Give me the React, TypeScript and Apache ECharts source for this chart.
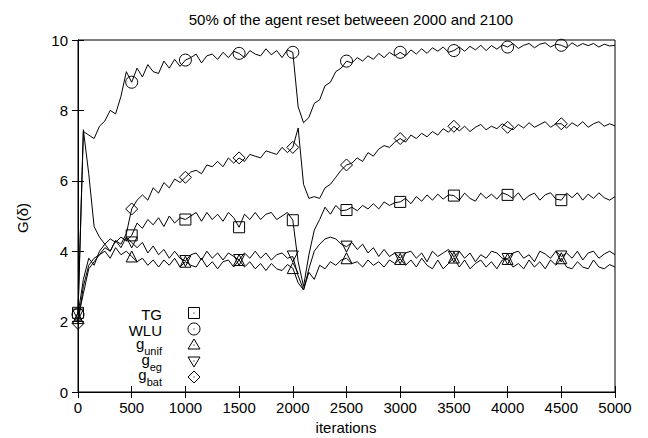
import React, { useEffect, useRef } from "react";
import * as echarts from "echarts";

// iteration step between samples
const STEP = 50;
const xTicks = [0, 500, 1000, 1500, 2000, 2500, 3000, 3500, 4000, 4500, 5000];
const yTicks = [0, 2, 4, 6, 8, 10];

const wlu = [
  2.2, 7.4, 7.3, 7.2, 7.55, 7.7, 8.0, 7.9, 8.4, 9.1,
  8.8, 9.2, 8.95, 9.3, 9.1, 9.05, 9.4, 9.2, 9.45, 9.25,
  9.43, 9.5, 9.6, 9.35, 9.55, 9.6, 9.45, 9.65, 9.5, 9.68,
  9.62, 9.5, 9.7, 9.6, 9.55, 9.75, 9.58, 9.7, 9.5, 9.72,
  9.65, 8.1, 7.65, 7.8, 8.2, 8.3, 8.7, 8.8, 9.1, 9.2,
  9.4, 9.35, 9.5, 9.4, 9.55, 9.45, 9.62, 9.5, 9.65, 9.55,
  9.65, 9.55, 9.72, 9.6, 9.75, 9.62, 9.78, 9.68, 9.8, 9.65,
  9.7, 9.8, 9.68, 9.82, 9.72, 9.85, 9.7, 9.84, 9.74, 9.86,
  9.8, 9.9, 9.76, 9.85, 9.9, 9.78, 9.88, 9.92, 9.8, 9.88,
  9.85, 9.78, 9.92, 9.82, 9.9, 9.84, 9.9, 9.8, 9.88, 9.83,
  9.85,
];

const gBat = [
  1.95, 3.0, 3.6, 3.8, 3.9, 4.1, 4.0, 4.3, 4.2, 4.5,
  5.2, 5.45, 5.6, 5.45, 5.8, 5.65, 5.95, 5.8, 6.05, 5.95,
  6.1, 6.25, 6.3, 6.2, 6.45, 6.4, 6.55, 6.4, 6.65, 6.5,
  6.65, 6.55, 6.75, 6.7, 6.65, 6.85, 6.8, 6.75, 6.95, 6.8,
  6.95, 7.5, 5.9, 5.5, 5.55, 5.5, 5.8, 5.9, 6.1, 6.3,
  6.45, 6.5, 6.65, 6.55, 6.8, 6.7, 6.9, 7.0, 6.95, 7.1,
  7.2, 7.1, 7.3, 7.2, 7.35, 7.25, 7.4, 7.3, 7.48, 7.38,
  7.55, 7.42, 7.55, 7.4, 7.52, 7.6, 7.45, 7.55, 7.48, 7.62,
  7.52, 7.45, 7.6, 7.5, 7.65, 7.52, 7.6, 7.68, 7.52, 7.62,
  7.62, 7.5, 7.65, 7.55, 7.68, 7.52, 7.62, 7.68, 7.55, 7.62,
  7.56,
];

const tg = [
  2.25, 7.45, 6.2, 4.7, 4.4, 4.2, 4.35, 4.25, 4.4, 4.3,
  4.45, 4.8, 4.65, 4.9, 4.75, 4.95, 4.7, 5.0, 4.8, 4.95,
  4.9, 5.0, 5.1, 4.85, 5.1, 4.9, 5.05, 4.85, 5.1, 4.95,
  4.68, 5.05, 4.9, 5.1, 4.9, 5.05, 5.1, 4.9, 5.0, 5.1,
  4.88, 3.7, 3.0, 3.9, 4.6, 4.9, 5.25, 5.05, 5.3, 5.15,
  5.17, 5.25, 5.15, 5.3, 5.2, 5.35, 5.2, 5.4, 5.3, 5.38,
  5.4, 5.5, 5.35, 5.55, 5.42, 5.6, 5.45, 5.62, 5.48, 5.6,
  5.58, 5.45, 5.65, 5.5, 5.42, 5.65, 5.5, 5.62, 5.48, 5.66,
  5.6, 5.5, 5.66, 5.45, 5.58, 5.65, 5.45, 5.6, 5.66, 5.48,
  5.45, 5.65, 5.52, 5.66, 5.45, 5.62, 5.5, 5.66, 5.52, 5.45,
  5.55,
];

const gUnif = [
  2.1, 2.8, 3.5, 3.7, 3.9, 4.0, 3.8, 4.1, 3.9, 4.0,
  3.85, 3.7, 3.8, 3.6, 3.75, 3.55, 3.75, 3.6, 3.8, 3.55,
  3.7, 3.6, 3.55, 3.8, 3.55, 3.7, 3.5, 3.7, 3.75, 3.55,
  3.75, 3.55, 3.7, 3.5, 3.65, 3.45, 3.65, 3.5, 3.45, 3.62,
  3.52, 3.1, 2.9, 3.4, 3.2, 3.6, 3.5, 3.7, 3.6, 3.75,
  3.8, 3.65, 3.7, 3.55, 3.75, 3.6, 3.7, 3.55, 3.75, 3.65,
  3.78, 3.6, 3.75, 3.55, 3.8, 3.6, 3.5, 3.75, 3.5, 3.65,
  3.82, 3.55, 3.75, 3.5, 3.65, 3.75, 3.55, 3.7, 3.5, 3.75,
  3.78, 3.55, 3.65, 3.5, 3.75, 3.55, 3.7, 3.5, 3.75, 3.6,
  3.8, 3.55, 3.5, 3.7, 3.55, 3.5, 3.75, 3.55, 3.5, 3.62,
  3.55,
];

const gEg = [
  2.2, 3.2, 3.8, 3.6, 4.0, 4.2, 4.0, 4.3, 4.1, 4.4,
  4.25, 4.1, 4.25, 3.95, 4.15, 3.9, 4.05, 3.8, 4.0, 3.8,
  3.72, 3.9, 3.95, 3.75, 4.0, 3.8, 3.95, 3.75, 3.95, 3.85,
  3.75, 3.95, 3.8, 4.0, 3.8, 3.95, 3.75, 3.9, 3.95, 3.8,
  3.85, 3.3, 2.9, 3.5, 4.0, 4.2, 4.35, 4.4, 4.35, 4.2,
  4.13, 4.25, 4.05, 4.2, 3.95, 4.1, 3.85, 4.05, 3.85, 3.95,
  3.8, 3.95, 4.0, 3.8, 3.95, 3.7, 4.0, 3.85, 3.95, 4.05,
  3.84, 4.0, 3.8, 3.95, 3.7, 3.9, 3.8, 4.0, 3.95, 3.8,
  3.78, 3.95, 4.0, 3.8, 3.9, 3.7, 4.0, 3.92, 3.8, 4.0,
  3.85, 3.95, 3.8, 4.0, 3.75, 3.95, 4.0, 3.8, 3.92, 4.0,
  3.9,
];

const FONT = "'Liberation Sans', Arial, Helvetica, sans-serif";
const MARK_EVERY = 10; // marker every 500 iterations

function buildData(vals: number[]) {
  return vals.map((v, i) => {
    const x = i * STEP;
    if (i % MARK_EVERY === 0 && i < vals.length - 1) return { value: [x, v] };
    return { value: [x, v], symbol: "none" };
  });
}

function makeSeries(name: string, vals: number[], symbol: string, size: number, rotate = 0) {
  return {
    type: "line",
    name,
    data: buildData(vals),
    symbol,
    symbolSize: size,
    symbolRotate: rotate,
    showSymbol: true,
    showAllSymbol: true,
    silent: true,
    emphasis: { disabled: true },
    lineStyle: { color: "#000", width: 1 },
    itemStyle: { color: "rgba(255,255,255,0)", borderColor: "#000", borderWidth: 1 },
  };
}

export default function App() {
  const ref = useRef<HTMLDivElement>(null);
  useEffect(() => {
    if (!ref.current) return;
    const chart = echarts.init(ref.current, null, { renderer: "svg" });
    const axisLabel = { color: "#000", fontSize: 15, fontFamily: FONT };
    const legendX = 162;
    const symX = 194;
    const symY = [313, 329, 345, 361, 377];
    const k = 5.5;
    const mainFont = `15px ${FONT}`;
    const subFont = `11px ${FONT}`;
    const gLabel = (sub: string, subW: number, gy: number, sy: number) => [
      { type: "text", x: legendX, y: sy, style: { text: sub, fill: "#000", font: subFont, align: "right", verticalAlign: "middle" } },
      { type: "text", x: legendX - subW, y: gy, style: { text: "g", fill: "#000", font: mainFont, align: "right", verticalAlign: "middle" } },
    ];
    chart.setOption({
      animation: false,
      backgroundColor: "#fff",
      title: {
        text: "50% of the agent reset betweeen 2000 and 2100",
        left: 346,
        top: 7,
        textAlign: "center",
        textStyle: { color: "#000", fontSize: 15, fontWeight: "normal", fontFamily: FONT },
      },
      grid: { left: 78, right: 33, top: 40, bottom: 46, show: true, borderColor: "#000", borderWidth: 1, backgroundColor: "transparent" },
      xAxis: [
        {
          type: "value", min: 0, max: 5000, interval: 500,
          axisLine: { show: true, lineStyle: { color: "#000" } },
          axisTick: { show: true, inside: true, length: 6, lineStyle: { color: "#000" } },
          axisLabel: { ...axisLabel, margin: 8, customValues: xTicks, formatter: (v: number) => String(v) },
          splitLine: { show: false },
        },
        {
          type: "value", position: "top", min: 0, max: 5000, interval: 500,
          axisLine: { show: true, lineStyle: { color: "#000" } },
          axisTick: { show: true, inside: true, length: 6, lineStyle: { color: "#000" } },
          axisLabel: { show: false },
          splitLine: { show: false },
        },
      ],
      yAxis: [
        {
          type: "value", min: 0, max: 10, interval: 2,
          axisLine: { show: true, lineStyle: { color: "#000" } },
          axisTick: { show: true, inside: true, length: 6, lineStyle: { color: "#000" } },
          axisLabel: { ...axisLabel, margin: 10, customValues: yTicks, formatter: (v: number) => String(v) },
          splitLine: { show: false },
        },
        {
          type: "value", position: "right", min: 0, max: 10, interval: 2,
          axisLine: { show: true, lineStyle: { color: "#000" } },
          axisTick: { show: true, inside: true, length: 6, lineStyle: { color: "#000" } },
          axisLabel: { show: false },
          splitLine: { show: false },
        },
      ],
      series: [
        makeSeries("TG", tg, "rect", 11),
        makeSeries("WLU", wlu, "circle", 12),
        makeSeries("g_unif", gUnif, "triangle", 11),
        makeSeries("g_eg", gEg, "triangle", 11, 180),
        makeSeries("g_bat", gBat, "diamond", 12),
      ],
      graphic: [
        {
          type: "text", x: 346, y: 427,
          style: { text: "iterations", fill: "#000", font: mainFont, align: "center", verticalAlign: "middle" },
        },
        {
          type: "text", x: 22, y: 218, rotation: Math.PI / 2,
          style: { text: "G(δ)", fill: "#000", font: mainFont, align: "center", verticalAlign: "middle" },
        },
        // legend texts
        { type: "text", x: legendX, y: 314, style: { text: "TG", fill: "#000", font: mainFont, align: "right", verticalAlign: "middle" } },
        { type: "text", x: legendX, y: 330, style: { text: "WLU", fill: "#000", font: mainFont, align: "right", verticalAlign: "middle" } },
        ...gLabel("unif", 17.7, 343.5, 350.5),
        ...gLabel("eg", 12.2, 359.5, 366.5),
        ...gLabel("bat", 15.3, 374.5, 381.5),
        // legend symbols
        { type: "rect", shape: { x: symX - k, y: symY[0] - k, width: 2 * k, height: 2 * k }, style: { fill: "none", stroke: "#000", lineWidth: 1 } },
        { type: "rect", shape: { x: symX - 0.5, y: symY[0] - 0.5, width: 1, height: 1 }, style: { fill: "#000" } },
        { type: "circle", shape: { cx: symX, cy: symY[1], r: 6 }, style: { fill: "none", stroke: "#000", lineWidth: 1 } },
        { type: "rect", shape: { x: symX - 0.5, y: symY[1] - 0.5, width: 1, height: 1 }, style: { fill: "#000" } },
        { type: "polygon", shape: { points: [[symX, symY[2] - 6], [symX + 6, symY[2] + 4], [symX - 6, symY[2] + 4]] }, style: { fill: "none", stroke: "#000", lineWidth: 1 } },
        { type: "rect", shape: { x: symX - 0.5, y: symY[2] - 0.5, width: 1, height: 1 }, style: { fill: "#000" } },
        { type: "polygon", shape: { points: [[symX, symY[3] + 6], [symX + 6, symY[3] - 4], [symX - 6, symY[3] - 4]] }, style: { fill: "none", stroke: "#000", lineWidth: 1 } },
        { type: "rect", shape: { x: symX - 0.5, y: symY[3] - 0.5, width: 1, height: 1 }, style: { fill: "#000" } },
        { type: "polygon", shape: { points: [[symX, symY[4] - 6], [symX + 6, symY[4]], [symX, symY[4] + 6], [symX - 6, symY[4]]] }, style: { fill: "none", stroke: "#000", lineWidth: 1 } },
        { type: "rect", shape: { x: symX - 0.5, y: symY[4] - 0.5, width: 1, height: 1 }, style: { fill: "#000" } },
      ],
    });
    return () => chart.dispose();
  }, []);
  return <div ref={ref} style={{ position: "fixed", left: 0, top: 0, width: 648, height: 438 }} />;
}
